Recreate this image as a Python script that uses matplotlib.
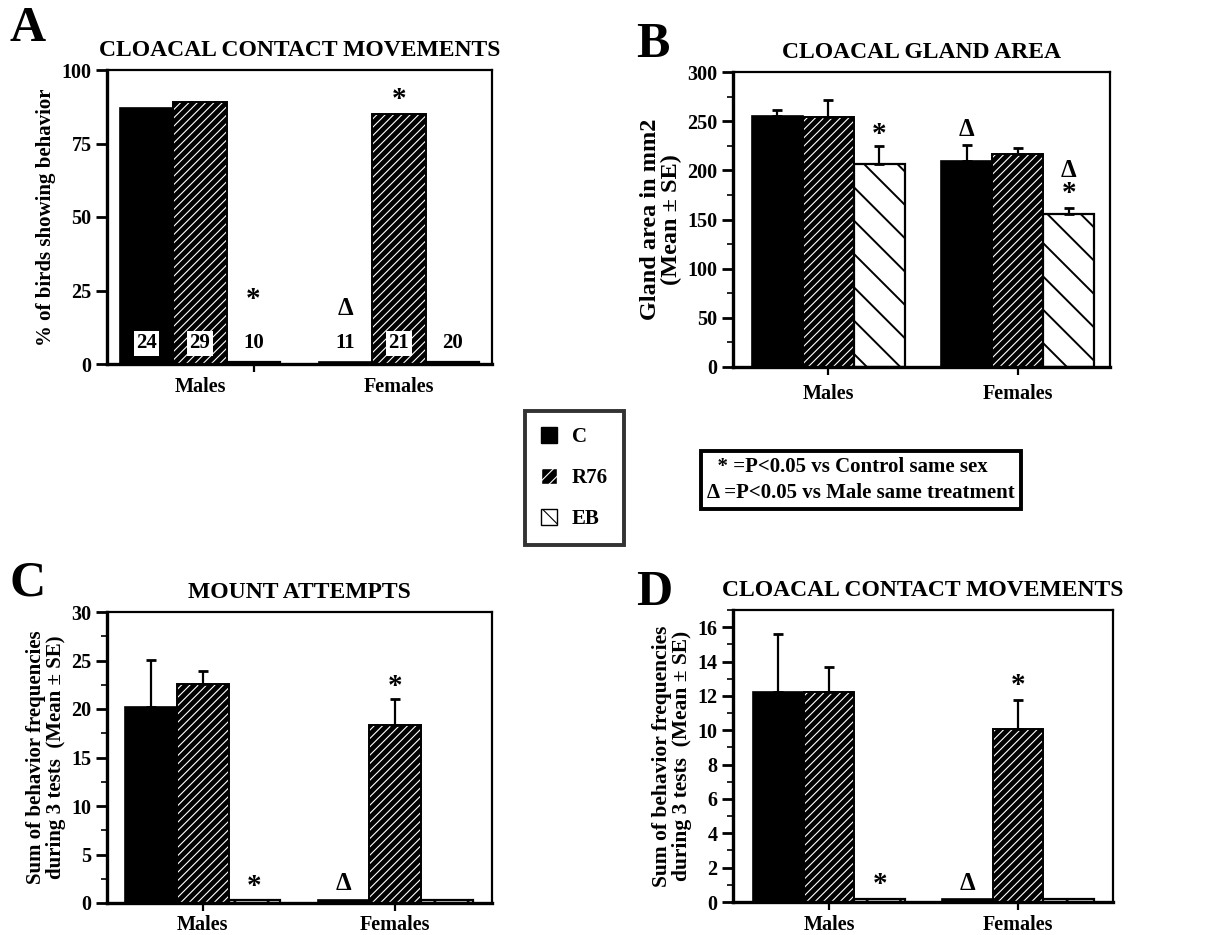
import matplotlib
matplotlib.use("Agg")
import matplotlib.pyplot as plt
from matplotlib.patches import Patch
from matplotlib.ticker import MultipleLocator, FixedLocator

plt.rcParams['font.family'] = ['Liberation Serif', 'DejaVu Serif']
plt.rcParams['font.weight'] = 'bold'
plt.rcParams['hatch.linewidth'] = 0.8

# ---------------- data ----------------
groups = ["Males", "Females"]
treatments = ["C", "R76", "EB"]

# A: % of birds showing cloacal contact movements
a_c = [87, 0.8]
a_r76 = [89, 85]
a_eb = [0.8, 0.8]
a_n_c = ["24", "11"]
a_n_r76 = ["29", "21"]
a_n_eb = ["10", "20"]

# B: cloacal gland area (mean, SE)
b_c = [255, 210]
b_c_se = [6, 16]
b_r76 = [254, 217]
b_r76_se = [18, 6]
b_eb = [206, 156]
b_eb_se = [19, 6]

# C: mount attempts
c_c = [20.2, 0.3]
c_c_se = [4.9, 0]
c_r76 = [22.6, 18.3]
c_r76_se = [1.3, 2.7]
c_eb = [0.3, 0.3]
c_eb_se = [0, 0]

# D: cloacal contact movements (frequency)
d_c = [12.2, 0.2]
d_c_se = [3.4, 0]
d_r76 = [12.2, 10.05]
d_r76_se = [1.5, 1.7]
d_eb = [0.2, 0.2]
d_eb_se = [0, 0]

W, H = 1206, 935
fig = plt.figure(figsize=(W / 100, H / 100), dpi=100)

GC = [0.0, 3.72]   # group centres
OFF = [-1.0, 0.0, 1.0]


def px_axes(l, t, r, b):
    return fig.add_axes([l / W, 1 - b / H, (r - l) / W, (b - t) / H])


def draw_bars(ax, vals, errs=None):
    for k, v in enumerate(vals):
        xs = [g + OFF[k] for g in GC]
        if k == 0:
            ax.bar(xs, v, width=1.0, color="black", edgecolor="black", linewidth=1.2, zorder=2)
        elif k == 1:
            ax.bar(xs, v, width=1.0, color="black", edgecolor="white", hatch="////",
                   linewidth=0, zorder=2)
            ax.bar(xs, v, width=1.0, fill=False, edgecolor="black", linewidth=1.4, zorder=3)
        else:
            with plt.rc_context({'hatch.linewidth': 1.4}):
                ax.bar(xs, v, width=1.0, color="white", edgecolor="black", hatch="\\",
                       linewidth=1.6, zorder=2)
        if errs is not None and errs[k] is not None:
            e = errs[k]
            xe = [x for x, ee in zip(xs, e) if ee > 0]
            ye = [y for y, ee in zip(v, e) if ee > 0]
            ee2 = [ee for ee in e if ee > 0]
            if xe:
                ax.errorbar(xe, ye, yerr=[[0] * len(ee2), ee2], fmt="none", ecolor="black",
                            elinewidth=1.6, capsize=3.5, capthick=2.0, zorder=4)


def style_axes(ax, ylim, major, minor, xlim, ylabel, title, ylsize=15):
    ax.set_ylim(*ylim)
    ax.set_xlim(*xlim)
    ax.yaxis.set_major_locator(MultipleLocator(major))
    if minor:
        ax.yaxis.set_minor_locator(MultipleLocator(minor))
    ax.set_xticks(GC)
    ax.set_xticklabels(groups, fontsize=14.5, fontweight="bold")
    for s in ["left", "bottom"]:
        ax.spines[s].set_linewidth(2.4)
    for s in ["top", "right"]:
        ax.spines[s].set_linewidth(1.6)
    ax.tick_params(axis="y", which="major", direction="out", length=8, width=2, labelsize=14.5, pad=3)
    ax.tick_params(axis="y", which="minor", direction="out", length=4, width=1.2)
    ax.tick_params(axis="x", which="major", direction="out", length=6, width=1.6, pad=3)
    for lab in ax.get_yticklabels():
        lab.set_fontweight("bold")
    ax.set_ylabel(ylabel, fontsize=ylsize, fontweight="bold", linespacing=1.0)
    ax.set_title(title, fontsize=17, fontweight="bold", pad=10)


STAR = 21
DELTA = 18

# ---------------- Panel A ----------------
axA = px_axes(107, 70, 492, 364)
draw_bars(axA, [a_c, a_r76, a_eb])
style_axes(axA, (0, 100), 25, None, (-1.74, 5.46), "% of birds showing behavior",
           "CLOACAL CONTACT MOVEMENTS", ylsize=15)
axA.tick_params(axis="x", which="major", length=0, pad=9)
axA.xaxis.set_minor_locator(FixedLocator([GC[0] + OFF[2], GC[1]]))
axA.tick_params(axis="x", which="minor", direction="out", length=6, width=1.6)
for k, labels in enumerate([a_n_c, a_n_r76, a_n_eb]):
    for g, lab in zip(GC, labels):
        boxed = (k == 0 and lab == a_n_c[0]) or k == 1
        kw = dict(ha="center", va="center", fontsize=15, fontweight="bold", zorder=5)
        if boxed:
            kw["bbox"] = dict(boxstyle="square,pad=0.12", facecolor="white", edgecolor="none")
        axA.text(g + OFF[k], 7, lab, **kw)
axA.text(GC[0] + OFF[2], 22, "*", ha="center", va="center", fontsize=STAR, zorder=5)
axA.text(GC[1] + OFF[0], 19, "\u0394", ha="center", va="center", fontsize=DELTA, zorder=5)
axA.text(GC[1] + OFF[1], 90, "*", ha="center", va="center", fontsize=STAR, zorder=5)

# ---------------- Panel B ----------------
axB = px_axes(733, 72, 1110, 367)
draw_bars(axB, [b_c, b_r76, b_eb], [b_c_se, b_r76_se, b_eb_se])
style_axes(axB, (0, 300), 50, 25, (-1.87, 5.53), "Gland area in mm2\n(Mean \u00b1 SE)",
           "CLOACAL GLAND AREA", ylsize=17.5)
axB.tick_params(axis="x", which="major", pad=6)
axB.text(GC[0] + OFF[2], 236, "*", ha="center", va="center", fontsize=STAR, zorder=5)
axB.text(GC[1] + OFF[0], 242, "\u0394", ha="center", va="center", fontsize=DELTA, zorder=5)
axB.text(GC[1] + OFF[2], 200, "\u0394", ha="center", va="center", fontsize=DELTA, zorder=5)
axB.text(GC[1] + OFF[2], 176, "*", ha="center", va="center", fontsize=STAR, zorder=5)

# ---------------- Panel C ----------------
axC = px_axes(107, 612, 492, 903)
draw_bars(axC, [c_c, c_r76, c_eb], [c_c_se, c_r76_se, c_eb_se])
style_axes(axC, (0, 30), 5, 2.5, (-1.85, 5.59),
           "Sum of behavior frequencies\nduring 3 tests  (Mean \u00b1 SE)", "MOUNT ATTEMPTS",
           ylsize=15)
axC.text(GC[0] + OFF[2], 1.7, "*", ha="center", va="center", fontsize=STAR, zorder=5)
axC.text(GC[1] + OFF[0], 2.0, "\u0394", ha="center", va="center", fontsize=DELTA, zorder=5)
axC.text(GC[1] + OFF[1], 22.3, "*", ha="center", va="center", fontsize=STAR, zorder=5)

# ---------------- Panel D ----------------
axD = px_axes(733, 610, 1113, 902)
draw_bars(axD, [d_c, d_r76, d_eb], [d_c_se, d_r76_se, d_eb_se])
style_axes(axD, (0, 17), 2, 1, (-1.89, 5.59),
           "Sum of behavior frequencies\nduring 3 tests  (Mean \u00b1 SE)", "CLOACAL CONTACT MOVEMENTS",
           ylsize=15.5)
axD.text(GC[0] + OFF[2], 1.0, "*", ha="center", va="center", fontsize=STAR, zorder=5)
axD.text(GC[1] + OFF[0], 1.1, "\u0394", ha="center", va="center", fontsize=DELTA, zorder=5)
axD.text(GC[1] + OFF[1], 12.6, "*", ha="center", va="center", fontsize=STAR, zorder=5)

# ---------------- panel letters ----------------
for lab, x, y in [("A", 10, 6), ("B", 636, 22), ("C", 10, 560), ("D", 636, 570)]:
    fig.text(x / W, 1 - y / H, lab, fontsize=36, fontweight="bold", ha="left", va="top")

# ---------------- treatment legend ----------------
with plt.rc_context({'hatch.linewidth': 1.3}):
    eb_handle = Patch(facecolor="white", edgecolor="black", hatch="\\", label="EB")
handles = [
    Patch(facecolor="black", edgecolor="black", label="C"),
    Patch(facecolor="black", edgecolor="white", hatch="///", label="R76"),
    eb_handle,
]
leg = fig.legend(handles=handles, loc="upper left", bbox_to_anchor=(525 / W, 1 - 411 / H),
                 frameon=True, fancybox=False, edgecolor="black", prop=dict(size=15, weight="bold"),
                 handlelength=0.8, handleheight=0.8, labelspacing=1.0, borderpad=0.75,
                 handletextpad=0.7, borderaxespad=0)
leg.get_frame().set_linewidth(2.8)

# ---------------- significance key ----------------
fig.text(707 / W, 1 - 480 / H,
         "  * =P<0.05 vs Control same sex\n\u0394 =P<0.05 vs Male same treatment",
         fontsize=15, fontweight="bold", ha="left", va="center", linespacing=1.4,
         bbox=dict(boxstyle="square,pad=0.3", facecolor="white", edgecolor="black", linewidth=2.8))

fig.savefig("out.png", dpi=100)
